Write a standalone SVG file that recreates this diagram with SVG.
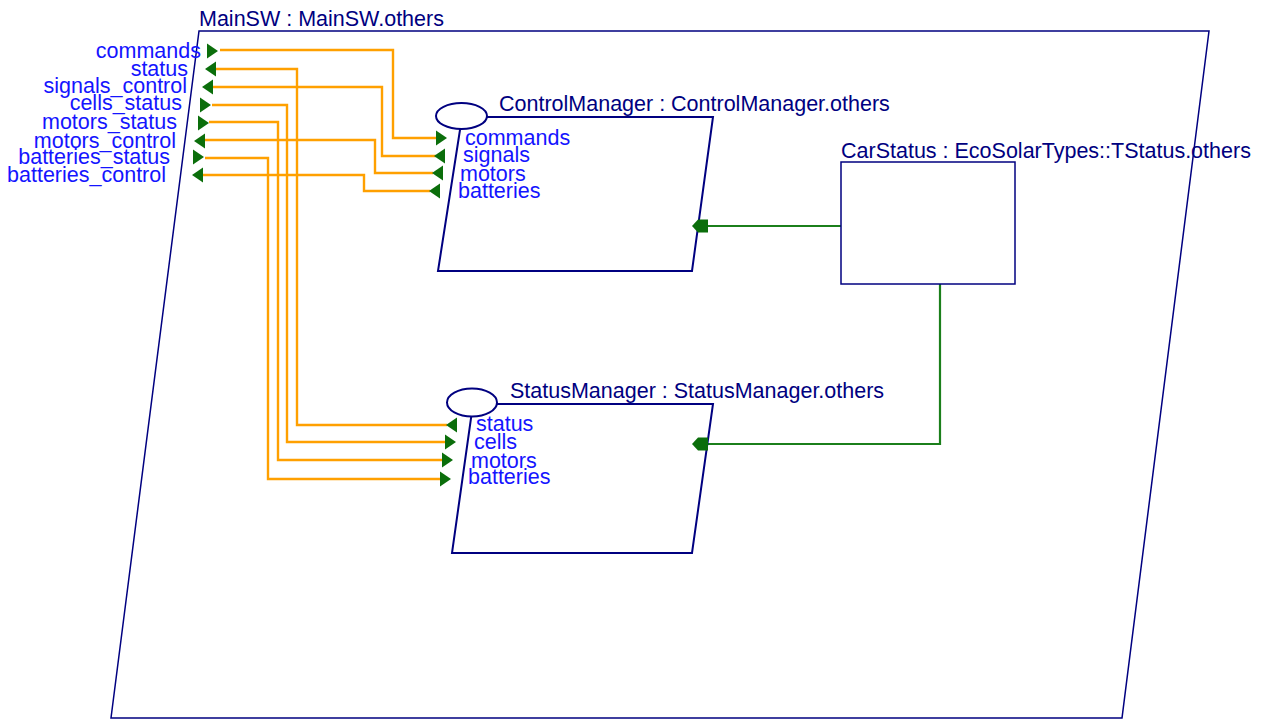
<svg xmlns="http://www.w3.org/2000/svg" xmlns:xlink="http://www.w3.org/1999/xlink" width="1261" height="720" viewBox="0 0 1261 720">
  <style>
    .frame { fill: none; stroke: #000080; stroke-width: 1.5; }
    .part { fill: #ffffff; stroke: #000080; stroke-width: 2; }
    .title { font-family: "Liberation Sans", Arial, sans-serif; font-size: 21.5px; fill: #000080; }
    .port { font-family: "Liberation Sans", Arial, sans-serif; font-size: 21.5px; fill: #1414ff; }
    .end { text-anchor: end; }
    .flow { fill: none; stroke: #ffa000; stroke-width: 2.4; }
    .bind { fill: none; stroke: #1b7f1b; stroke-width: 2.2; }
    .pin { fill: #0b6e0b; }
  </style>
  <defs>
    <!-- port triangles, base at x=0, tip at x=±11 -->
    <path id="pr" class="pin" d="M0,-7.5 L11,0 L0,7.5 Z"/>
    <path id="pl" class="pin" d="M11,-7.5 L0,0 L11,7.5 Z"/>
    <!-- connector end on a part -->
    <path id="plug" class="pin" d="M0,0 L6,-6.5 L16,-6.5 L16,6.5 L6,6.5 Z"/>
  </defs>

  <rect width="1261" height="720" fill="#ffffff"/>

  <!-- enclosing structure -->
  <g id="MainSW">
    <polygon class="frame" points="199,31 1209,31 1122,718 111,718"/>
    <text class="title" x="199" y="26">MainSW : MainSW.others</text>
    <text class="port end" x="201" y="58">commands</text>
    <text class="port end" x="188" y="76">status</text>
    <text class="port end" x="187" y="93">signals_control</text>
    <text class="port end" x="182" y="110">cells_status</text>
    <text class="port end" x="177" y="129">motors_status</text>
    <text class="port end" x="176" y="148">motors_control</text>
    <text class="port end" x="170" y="164">batteries_status</text>
    <text class="port end" x="166" y="182">batteries_control</text>
    <use xlink:href="#pr" x="207" y="51"/>
    <use xlink:href="#pl" x="205" y="69"/>
    <use xlink:href="#pl" x="202" y="87"/>
    <use xlink:href="#pr" x="200" y="105"/>
    <use xlink:href="#pr" x="198" y="123"/>
    <use xlink:href="#pl" x="194" y="141"/>
    <use xlink:href="#pr" x="193" y="157"/>
    <use xlink:href="#pl" x="192" y="175"/>
  </g>

  <!-- connectors -->
  <g id="connectors">
    <path class="flow" d="M220,50 H393 V138 H437"/>
    <path class="flow" d="M216,69 H297 V425 H447"/>
    <path class="flow" d="M213,87 H382 V156 H436"/>
    <path class="flow" d="M212,105 H287 V442 H447"/>
    <path class="flow" d="M209,122 H278 V460 H443"/>
    <path class="flow" d="M205,140 H375 V173 H433"/>
    <path class="flow" d="M205,158 H268 V479 H441"/>
    <path class="flow" d="M203,175 H364 V191 H430"/>
    <path class="bind" d="M841,226 H706"/>
    <path class="bind" d="M940,284 V444 H706"/>
  </g>

  <g id="ControlManager">
    <polygon class="part" points="462,117 713,117 692,271 438,271"/>
    <ellipse class="part" cx="461.5" cy="116" rx="25.5" ry="13"/>
    <text class="title" x="499" y="111">ControlManager : ControlManager.others</text>
    <text class="port" x="465" y="145">commands</text>
    <text class="port" x="463" y="162">signals</text>
    <text class="port" x="460" y="181">motors</text>
    <text class="port" x="458" y="198">batteries</text>
    <use xlink:href="#pr" x="436" y="138"/>
    <use xlink:href="#pl" x="434" y="156"/>
    <use xlink:href="#pl" x="432" y="173"/>
    <use xlink:href="#pl" x="429" y="191"/>
    <use xlink:href="#plug" x="692" y="226"/>
  </g>

  <g id="StatusManager">
    <polygon class="part" points="473,404 713,404 692,553 452,553"/>
    <ellipse class="part" cx="472" cy="402.5" rx="25" ry="14"/>
    <text class="title" x="510" y="398">StatusManager : StatusManager.others</text>
    <text class="port" x="476" y="431">status</text>
    <text class="port" x="474" y="449">cells</text>
    <text class="port" x="471" y="468">motors</text>
    <text class="port" x="468" y="484">batteries</text>
    <use xlink:href="#pl" x="446" y="425"/>
    <use xlink:href="#pr" x="445" y="442"/>
    <use xlink:href="#pr" x="442" y="460"/>
    <use xlink:href="#pr" x="440" y="479"/>
    <use xlink:href="#plug" x="692" y="444"/>
  </g>

  <g id="CarStatus">
    <rect class="frame" x="841" y="162" width="174" height="122"/>
    <text class="title" x="841" y="158">CarStatus : EcoSolarTypes::TStatus.others</text>
  </g>
</svg>
